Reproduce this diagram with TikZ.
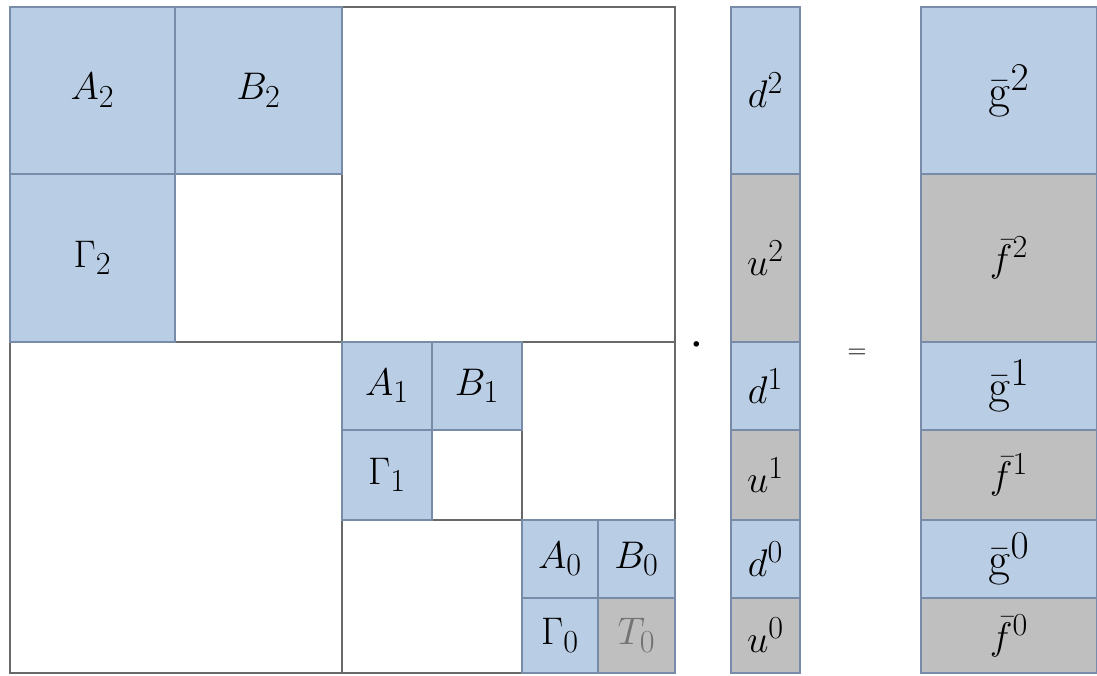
\documentclass[tikz,border=0pt]{standalone}
\usepackage{amsmath}
\usepackage{graphicx}
\definecolor{celeste}{RGB}{185,205,229}
\definecolor{gris}{RGB}{191,191,191}
\definecolor{bordeazul}{RGB}{120,140,170}
\definecolor{linea}{RGB}{105,105,105}
\newcommand{\grande}[2][1.1]{\scalebox{#1}{$#2$}}
\tikzset{
  azul/.style={fill=celeste, draw=bordeazul, line width=0.9pt},
  grisc/.style={fill=gris, draw=bordeazul, line width=0.9pt},
  etiq/.style={font=\Huge, inner sep=0pt},
}
\begin{document}
\begin{tikzpicture}[x=0.025cm, y=-0.025cm, line join=miter]
  \useasboundingbox (0,0) rectangle (1097,676);
  % el marco de la matriz y sus divisiones
  \draw[linea, line width=0.9pt] (10,7) rectangle (675,673);
  \draw[linea, line width=0.9pt] (342,7) -- (342,673) (10,342) -- (675,342);
  \draw[linea, line width=0.9pt] (522,342) -- (522,673) (342,520) -- (675,520);
  % los bloques de la matriz
  \foreach \xa/\ya/\xb/\yb/\s/\n/\t in {
      10/7/175/174/azul/A2/{A_2}, 175/7/342/174/azul/B2/{B_2}, 10/174/175/342/azul/G2/{\Gamma_2},
      342/342/432/430/azul/A1/{A_1}, 432/342/522/430/azul/B1/{B_1}, 342/430/432/520/azul/G1/{\Gamma_1},
      522/520/598/598/azul/A0/{A_0}, 598/520/675/598/azul/B0/{B_0}, 522/598/598/673/azul/G0/{\Gamma_0}} {
    \filldraw[\s] (\xa,\ya) rectangle (\xb,\yb);
    \node[etiq] (\n) at ({(\xa+\xb)/2},{(\ya+\yb)/2}) {\grande{\t}};
  }
  \filldraw[grisc] (598,598) rectangle (675,673);
  \node[etiq, text=black!55] (T0) at (636.5,635.5) {\grande{T_0}};
  % el vector de incógnitas
  \foreach \ya/\yb/\s/\n/\t in {7/174/azul/d2/{d^2}, 174/342/grisc/u2/{u^2},
      342/430/azul/d1/{d^1}, 430/520/grisc/u1/{u^1}, 520/598/azul/d0/{d^0}, 598/673/grisc/u0/{u^0}} {
    \filldraw[\s] (731,\ya) rectangle (800,\yb);
    \node[etiq] (\n) at (765.5,{(\ya+\yb)/2}) {\grande{\t}};
  }
  % el lado derecho
  \foreach \ya/\yb/\s/\n/\t/\f in {7/174/azul/g2/{\bar{\mathrm{g}}^2}/1.35, 174/342/grisc/f2/{\bar{f}^2}/1.1,
      342/430/azul/g1/{\bar{\mathrm{g}}^1}/1.35, 430/520/grisc/f1/{\bar{f}^1}/1.1,
      520/598/azul/g0/{\bar{\mathrm{g}}^0}/1.35, 598/673/grisc/f0/{\bar{f}^0}/1.1} {
    \filldraw[\s] (921,\ya) rectangle (1097,\yb);
    \node[etiq] (\n) at (1009,{(\ya+\yb)/2}) {\grande[\f]{\t}};
  }
  % el producto y la igualdad
  \node[etiq] (punto) at (697,346) {\grande[1.5]{\cdot}};
  \node[etiq] (igual) at (857,354) {\grande[0.75]{=}};
\end{tikzpicture}
\end{document}
